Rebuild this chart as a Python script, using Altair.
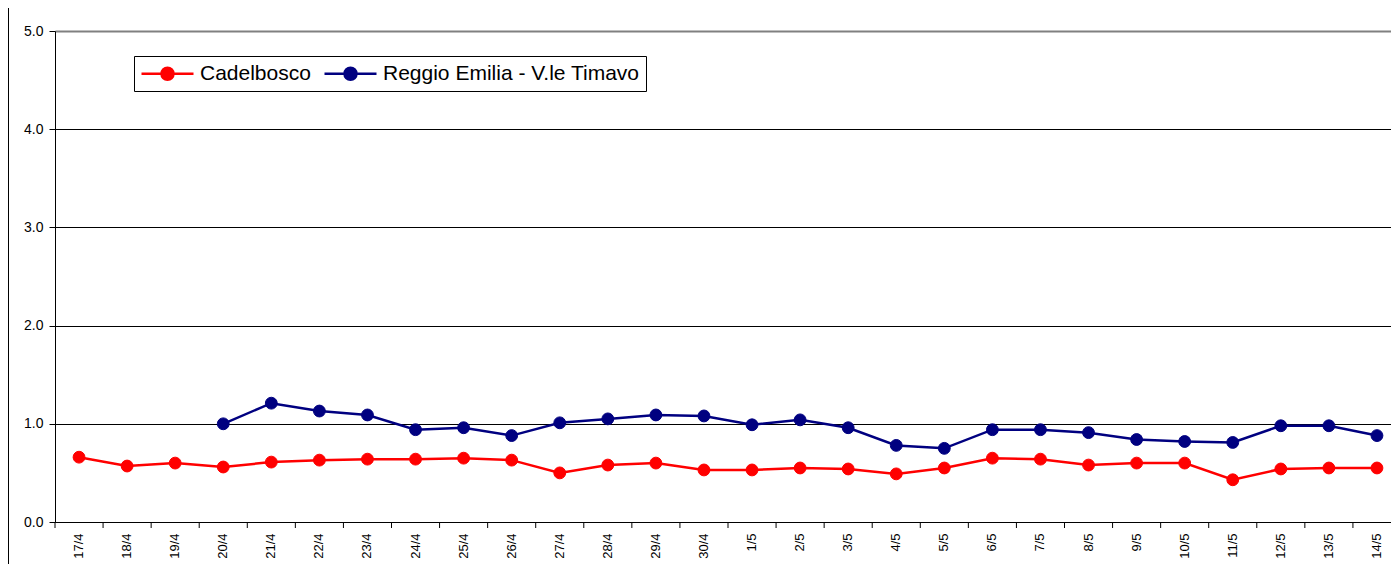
import altair as alt
import pandas as pd

dates = ["17/4", "18/4", "19/4", "20/4", "21/4", "22/4", "23/4", "24/4", "25/4", "26/4",
         "27/4", "28/4", "29/4", "30/4", "1/5", "2/5", "3/5", "4/5", "5/5", "6/5",
         "7/5", "8/5", "9/5", "10/5", "11/5", "12/5", "13/5", "14/5"]
cadelbosco = [0.66, 0.57, 0.60, 0.56, 0.61, 0.63, 0.64, 0.64, 0.65, 0.63,
              0.50, 0.58, 0.60, 0.53, 0.53, 0.55, 0.54, 0.49, 0.55, 0.65,
              0.64, 0.58, 0.60, 0.60, 0.43, 0.54, 0.55, 0.55]
reggio = [None, None, None, 1.00, 1.21, 1.13, 1.09, 0.94, 0.96, 0.88,
          1.01, 1.05, 1.09, 1.08, 0.99, 1.04, 0.96, 0.78, 0.75, 0.94,
          0.94, 0.91, 0.84, 0.82, 0.81, 0.98, 0.98, 0.88]
series_names = ["Cadelbosco", "Reggio Emilia - V.le Timavo"]
series_colors = ["#FF0000", "#000080"]
y_ticks = [0, 1, 2, 3, 4, 5]

rows = []
for d, c, r in zip(dates, cadelbosco, reggio):
    rows.append({"date": d, "series": series_names[0], "value": c})
    if r is not None:
        rows.append({"date": d, "series": series_names[1], "value": r})
df = pd.DataFrame(rows)
dates_df = pd.DataFrame({"date": dates})

FONT = "Liberation Sans"
color_scale = alt.Scale(domain=series_names, range=series_colors)
# legend symbol: line with a dot; unit = 10px (size 400)
sym_path = ("M-1,0L4.2,0M1.0,0A0.6,0.6,0,1,1,2.2,0"
            "A0.6,0.6,0,1,1,1.0,0Z")
legend = alt.Legend(
    orient="none", legendX=79, legendY=25, direction="horizontal", title=None,
    symbolType=sym_path, symbolSize=400, symbolStrokeWidth=2.5,
    labelFont=FONT, labelFontSize=21, labelColor="black", labelOffset=37,
    columnPadding=8, padding=6, strokeColor="black", fillColor="white",
    symbolOpacity=1, labelLimit=400,
)

x_scale = alt.Scale(type="band", paddingInner=0, paddingOuter=0)
x_enc = alt.X(
    "date:N", sort=dates, scale=x_scale, title=None,
    axis=alt.Axis(labelAngle=270, labelFont=FONT, labelFontSize=13, labelColor="black",
                  ticks=False, tickSize=0, labelPadding=11, domainColor="black",
                  domainWidth=1, grid=False),
)
y_enc = alt.Y(
    "value:Q", title=None, scale=alt.Scale(domain=[0, 5], nice=False, zero=True),
    axis=alt.Axis(values=y_ticks, format=".1f", labelFont=FONT, labelFontSize=14,
                  labelColor="black", tickColor="black", tickSize=6, labelPadding=6,
                  domainColor="black", domainWidth=1,
                  gridColor={"condition": {"test": "datum.value == 5", "value": "#808080"},
                             "value": "black"},
                  gridWidth={"condition": {"test": "datum.value == 5", "value": 2},
                             "value": 1}),
)

base = alt.Chart(df)
lines = base.mark_line(strokeWidth=2.5).encode(
    x=x_enc, y=y_enc,
    stroke=alt.Stroke("series:N", scale=color_scale, legend=legend),
    detail="series:N",
)
points = base.mark_point(filled=True, size=140, opacity=1, strokeWidth=1).encode(
    x=x_enc, y=y_enc,
    fill=alt.Fill("series:N", scale=color_scale, legend=legend),
    stroke=alt.Stroke("series:N", scale=color_scale, legend=legend),
)
ticks = alt.Chart(dates_df).mark_rule(color="black", strokeWidth=1).encode(
    x=alt.X("date:N", sort=dates, scale=x_scale, bandPosition=0, title=None),
    y=alt.value(491), y2=alt.value(497),
)
frame = alt.Chart(dates_df.head(1)).mark_rule(color="black", strokeWidth=1).encode(
    x=alt.value(-46.5), y=alt.value(-23), y2=alt.value(540),
)

chart = alt.layer(ticks, lines, points, frame).properties(
    width=1346, height=491,
    autosize=alt.AutoSizeParams(type="none"),
    padding={"left": 47, "top": 23, "right": -10, "bottom": 42},
).configure_view(stroke=None).configure(background="white")

chart.save("out.html", embed_options={"renderer": "svg", "actions": False})
